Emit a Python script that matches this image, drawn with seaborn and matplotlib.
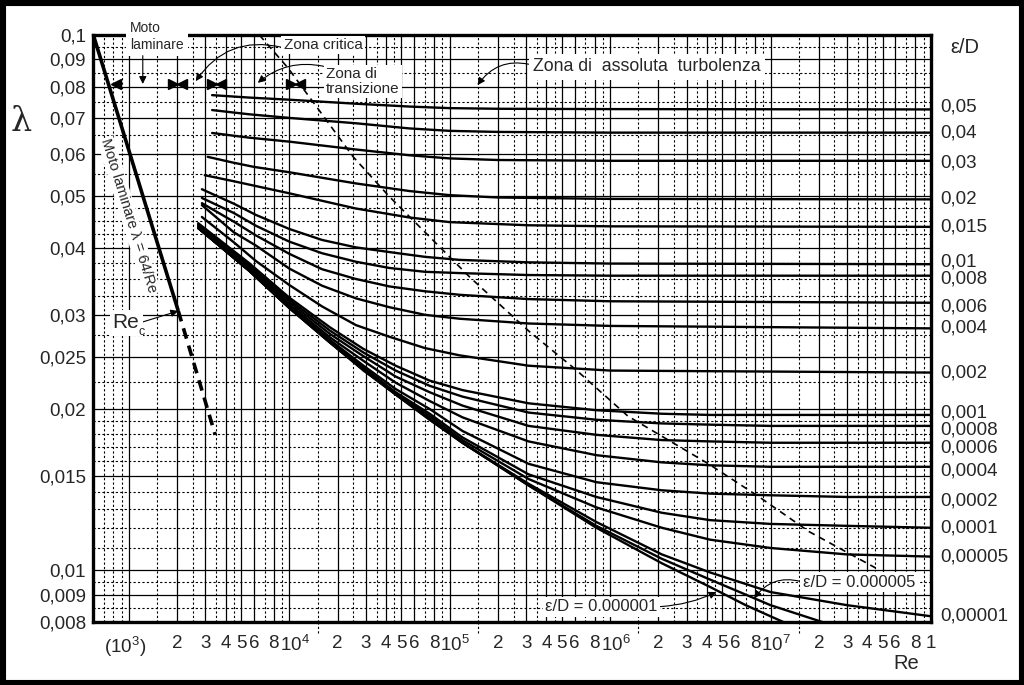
import numpy as np
import pandas as pd
import matplotlib
matplotlib.use("Agg")
import matplotlib.pyplot as plt
import matplotlib.transforms as mtransforms
from matplotlib.ticker import NullFormatter
from matplotlib.patches import Rectangle
import seaborn as sns

# --- data (Re, lambda) ---
# upper (very rough) curves
re_top = [3300, 5600, 1e4, 2.6e4, 5.6e4, 1e5, 2e5, 1e6, 1e8]
lam_005 = [0.0772, 0.0764, 0.0757, 0.0744, 0.0735, 0.0730, 0.0728, 0.0727, 0.0726]
lam_004 = [0.0724, 0.0711, 0.0700, 0.0684, 0.0669, 0.0662, 0.0659, 0.0657, 0.0657]
lam_003 = [0.0656, 0.0643, 0.0632, 0.0611, 0.0596, 0.0588, 0.0584, 0.0582, 0.0582]

re_002 = [3100, 4400, 6000, 1e4, 1.6e4, 2.6e4, 5.6e4, 1e5, 2e5, 1e6, 1e8]
lam_002 = [0.0592, 0.0578, 0.0567, 0.0554, 0.0541, 0.0528, 0.0511, 0.0502, 0.0497, 0.0494, 0.0493]

re_0015 = [2970, 4500, 6200, 1e4, 1.6e4, 2.6e4, 5.6e4, 1e5, 3.1e5, 1e6, 1e8]
lam_0015 = [0.0547, 0.0533, 0.0522, 0.0506, 0.0490, 0.0474, 0.0456, 0.0447, 0.0441, 0.0439, 0.0438]

# middle curves
re_mid = [2850, 4500, 6200, 1e4, 1.6e4, 2.6e4, 4.2e4, 7e4, 1.15e5, 3.1e5, 1e6, 1e8]
lam_001 = [0.0515, 0.0484, 0.0461, 0.0434, 0.0414, 0.0401, 0.0393, 0.0385, 0.0380, 0.0376, 0.0374, 0.0373]
lam_0008 = [0.0496, 0.0465, 0.0440, 0.0411, 0.0391, 0.0377, 0.0367, 0.0361, 0.0359, 0.0356, 0.0355, 0.0355]
lam_0006 = [0.0485, 0.0448, 0.0422, 0.0390, 0.0365, 0.0350, 0.0339, 0.0332, 0.0327, 0.0321, 0.0318, 0.0316]
lam_0004 = [0.0481, 0.0428, 0.0404, 0.0366, 0.0340, 0.0322, 0.0310, 0.0300, 0.0295, 0.0289, 0.0286, 0.0283]
lam_0002 = [0.0457, 0.0410, 0.0378, 0.0341, 0.0311, 0.0287, 0.0273, 0.0260, 0.0252, 0.0241, 0.0236, 0.0234]

# lower (smooth-ish) curves
re_low = [2700, 5600, 1e4, 1.8e4, 2.9e4, 4.6e4, 7.5e4, 1.2e5, 3.1e5, 8.2e5, 2.1e6, 4.2e6, 1e7, 3e7, 1e8]
lam_0001 = [0.0445, 0.0375, 0.0323, 0.0284, 0.0259, 0.0241, 0.0226, 0.0217, 0.0205, 0.0199, 0.0196, 0.0195, 0.0195, 0.0195, 0.0195]
lam_00008 = [0.0442, 0.0372, 0.0320, 0.0280, 0.0255, 0.0236, 0.0221, 0.0211, 0.0197, 0.0191, 0.0188, 0.0187, 0.0186, 0.0186, 0.0186]
lam_00006 = [0.0440, 0.0369, 0.0317, 0.0276, 0.0251, 0.0230, 0.0215, 0.0203, 0.0186, 0.0179, 0.0175, 0.0174, 0.0173, 0.0173, 0.0173]
lam_00004 = [0.0437, 0.0367, 0.0314, 0.0272, 0.0246, 0.0224, 0.0207, 0.0193, 0.0174, 0.0164, 0.0159, 0.0157, 0.0156, 0.0156, 0.0156]
lam_00002 = [0.0436, 0.0365, 0.0311, 0.0269, 0.0241, 0.0218, 0.0200, 0.0182, 0.0158, 0.0146, 0.0141, 0.0139, 0.0138, 0.0137, 0.0137]
lam_00001 = [0.0436, 0.0364, 0.0310, 0.0268, 0.0239, 0.0215, 0.0196, 0.0177, 0.0151, 0.0137, 0.0128, 0.0124, 0.0122, 0.0121, 0.0120]
lam_000005 = [0.0436, 0.0363, 0.0309, 0.0267, 0.0238, 0.0214, 0.0194, 0.0175, 0.0148, 0.0131, 0.0120, 0.0114, 0.0110, 0.0107, 0.0106]
lam_000001 = [0.0436, 0.0363, 0.0309, 0.0266, 0.0237, 0.0213, 0.0192, 0.0173, 0.0145, 0.0123, 0.0107, 0.0099, 0.0091, 0.0086, 0.0082]

re_5e6 = [2700, 5600, 1e4, 1.8e4, 2.9e4, 4.6e4, 7.5e4, 1.2e5, 3.1e5, 8.2e5, 2.1e6, 4.2e6, 7e6, 1e7, 2.1e7]
lam_5e6 = [0.0436, 0.0363, 0.0309, 0.0266, 0.0237, 0.0213, 0.0191, 0.0173, 0.0144, 0.0121, 0.0105, 0.0096, 0.0090, 0.0086, 0.0080]
re_1e6 = [2700, 5600, 1e4, 1.8e4, 2.9e4, 4.6e4, 7.5e4, 1.2e5, 3.1e5, 8.2e5, 2.1e6, 4.2e6, 7e6, 1.2e7]
lam_1e6 = [0.0436, 0.0363, 0.0309, 0.0266, 0.0236, 0.0213, 0.0191, 0.0173, 0.0144, 0.0120, 0.0103, 0.0093, 0.0086, 0.0080]

# laminar line and critical-zone continuation
re_lam = [600, 2030]
lam_lam = [0.1, 0.0305]
re_lam_dash = [2030, 3450]
lam_lam_dash = [0.0305, 0.0179]

# boundary of the fully rough zone (dashed)
re_rough = [6500, 9800, 14800, 25000, 42000, 68000, 1.33e5, 3.14e5, 6.1e5, 1.29e6, 4.1e6, 8.5e6, 1.74e7, 4.5e7]
lam_rough = [0.1, 0.0868, 0.0734, 0.0592, 0.0499, 0.0432, 0.0353, 0.0279, 0.0237, 0.0194, 0.0158, 0.0137, 0.0118, 0.0101]

curves = [
    ("0,05", re_top, lam_005), ("0,04", re_top, lam_004), ("0,03", re_top, lam_003),
    ("0,02", re_002, lam_002), ("0,015", re_0015, lam_0015),
    ("0,01", re_mid, lam_001), ("0,008", re_mid, lam_0008), ("0,006", re_mid, lam_0006),
    ("0,004", re_mid, lam_0004), ("0,002", re_mid, lam_0002),
    ("0,001", re_low, lam_0001), ("0,0008", re_low, lam_00008), ("0,0006", re_low, lam_00006),
    ("0,0004", re_low, lam_00004), ("0,0002", re_low, lam_00002), ("0,0001", re_low, lam_00001),
    ("0,00005", re_low, lam_000005), ("0,00001", re_low, lam_000001),
    ("5e-6", re_5e6, lam_5e6), ("1e-6", re_1e6, lam_1e6),
]
no_label = ["5e-6", "1e-6"]
# small vertical nudges (px, down positive) of right labels
label_nudge = {"0,05": -2, "0,03": 2, "0,01": -2, "0,008": 3, "0,006": 4,
               "0,001": -2, "0,0008": 4, "0,0006": 5, "0,0004": 4, "0,0002": 4}

rows = []
for name, rr, ll in curves:
    for r, l in zip(rr, ll):
        rows.append((name, r, l))
df = pd.DataFrame(rows, columns=["curve", "Re", "lam"])

# axis ticks
y_major = [0.1, 0.09, 0.08, 0.07, 0.06, 0.05, 0.04, 0.03, 0.025, 0.02, 0.015, 0.01, 0.009, 0.008]
y_labels = ["0,1", "0,09", "0,08", "0,07", "0,06", "0,05", "0,04", "0,03", "0,025", "0,02",
            "0,015", "0,01", "0,009", "0,008"]
y_minor = [0.095, 0.085, 0.075, 0.065, 0.055, 0.0475, 0.045, 0.0425, 0.0375, 0.035, 0.0325,
           0.0275, 0.0225, 0.019, 0.018, 0.017, 0.016, 0.014, 0.013, 0.012, 0.011, 0.0095, 0.0085]

x_major, x_labels = [], []
for d in range(3, 8):
    for m in [1, 2, 3, 4, 5, 6, 8]:
        x_major.append(m * 10.0 ** d)
        if m == 1:
            x_labels.append(r"$\mathregular{(10^3)}$" if d == 3 else r"$\mathregular{10^%d}$" % d)
        else:
            x_labels.append(str(m))
x_major.append(1e8)
x_labels.append("1")
x_minor = [7e2, 8e2, 9e2] + [m * 10.0 ** d for d in range(3, 8) for m in [1.5, 2.5, 3.5, 4.5, 7, 9]]
x_ext = [1.5e4, 1.5e5, 1.5e6, 1.5e7]

# --- drawing ---
sns.set_style("white")
plt.rcParams["font.family"] = ["Liberation Sans", "DejaVu Sans"]

fig = plt.figure(figsize=(10.24, 6.85), dpi=100)
ax = fig.add_axes([93 / 1024, 1 - 622 / 685, 838 / 1024, 587 / 685])
ax.set_xscale("log")
ax.set_yscale("log")

sns.lineplot(data=df, x="Re", y="lam", hue="curve", palette=["black"] * len(curves),
             estimator=None, sort=False, legend=False, lw=1.7, ax=ax, zorder=3)

ax.plot(re_lam, lam_lam, color="black", lw=2.6, zorder=3, solid_capstyle="butt")
ax.plot(re_lam_dash, lam_lam_dash, color="black", lw=2.6, dashes=(3, 2), zorder=3)
ax.plot(re_rough, lam_rough, color="black", lw=1.2, dashes=(4, 3), zorder=3)

ax.set_xlim(597, 1e8)
ax.set_ylim(0.008, 0.1)
ax.set_xticks(x_major, labels=x_labels)
ax.set_xticks(x_minor, minor=True)
ax.set_yticks(y_major, labels=y_labels)
ax.set_yticks(y_minor, minor=True)
ax.xaxis.set_minor_formatter(NullFormatter())
ax.yaxis.set_minor_formatter(NullFormatter())
ax.tick_params(which="both", length=0)
ax.tick_params(axis="x", pad=9, labelsize=13.5)
ax.tick_params(axis="y", pad=5, labelsize=13.5)
# powers of ten: keep the "10" over the grid line, exponent to the right
shift = mtransforms.ScaledTranslation(4 / 72, 0, fig.dpi_scale_trans)
back = mtransforms.ScaledTranslation(-3 / 72, 0, fig.dpi_scale_trans)
for lab in ax.get_xticklabels():
    txt = lab.get_text()
    if "(" in txt:
        lab.set_transform(lab.get_transform() + back)
    elif "10" in txt:
        lab.set_transform(lab.get_transform() + shift)
ax.grid(which="major", color="black", lw=0.9, ls="-", zorder=1)
ax.grid(which="minor", color="black", lw=0.8, ls=(0, (2, 2)), zorder=1)
ax.set_xlabel("")
ax.set_ylabel("")
for s in ax.spines.values():
    s.set_linewidth(2.4)
    s.set_color("black")

trans_x = mtransforms.blended_transform_factory(ax.transData, ax.transAxes)
ax.vlines(x_ext, -0.018, 0, transform=trans_x, color="black", lw=0.8,
          linestyles=(0, (2, 2)), clip_on=False)

# right-hand roughness labels
trans_y = mtransforms.blended_transform_factory(ax.transAxes, ax.transData)
for name, rr, ll in curves:
    if name in no_label:
        continue
    ax.annotate(name, xy=(1, ll[-1]), xycoords=trans_y,
                xytext=(6.5, -label_nudge.get(name, 0) * 0.72), textcoords="offset points",
                ha="left", va="center", fontsize=13.5, annotation_clip=False)

# zone markers row
lam_row = 0.081
tri = dict(color="black", ms=7, ls="none", zorder=5, clip_on=False)
ax.plot([830], [lam_row], marker="<", **tri)
for b in [2000, 3500, 11000]:
    left = mtransforms.offset_copy(ax.transData, fig=fig, x=-4.5, y=0, units="dots")
    right = mtransforms.offset_copy(ax.transData, fig=fig, x=4.5, y=0, units="dots")
    ax.plot([b], [lam_row], marker=">", transform=left, **tri)
    ax.plot([b], [lam_row], marker="<", transform=right, **tri)

arr = dict(arrowstyle="-|>", color="black", lw=0.8, mutation_scale=11, shrinkA=0, shrinkB=0)
box = dict(boxstyle="square,pad=0.15", fc="white", ec="none")

ax.text(0.044, 0.998, "Moto\nlaminare", transform=ax.transAxes, ha="left", va="center",
        fontsize=10, linespacing=1.25, bbox=dict(boxstyle="square,pad=0.3", fc="white", ec="none"),
        zorder=6, clip_on=False)
ax.annotate("", xy=(1220, lam_row), xytext=(1220, 0.0915), arrowprops=arr, zorder=6)

ax.annotate("Zona critica", xy=(2610, 0.082), xytext=(0.2745, 0.983), textcoords="axes fraction",
            ha="center", va="center", fontsize=11, bbox=box, zorder=6,
            arrowprops=dict(arr, connectionstyle="arc3,rad=0.35", relpos=(0, 0.3)))
ax.annotate("Zona di\ntransizione", xy=(6360, 0.0814), xytext=(0.278, 0.921),
            textcoords="axes fraction", ha="left", va="center", fontsize=11,
            linespacing=1.1, bbox=box, zorder=6,
            arrowprops=dict(arr, connectionstyle="arc3,rad=0.25", relpos=(0, 1)))
ax.annotate("Zona di  assoluta  turbolenza", xy=(1.49e5, 0.0806), xytext=(0.661, 0.9455),
            textcoords="axes fraction", ha="center", va="center", fontsize=12.8,
            bbox=dict(boxstyle="square,pad=0.25", fc="white", ec="none"), zorder=6,
            arrowprops=dict(arr, connectionstyle="arc3,rad=0.35", relpos=(0, 0.6)))

ax.annotate("ε/D = 0.000001", xy=(4.6e6, 0.0091), xytext=(0.607, 0.026),
            textcoords="axes fraction", ha="center", va="center", fontsize=12, bbox=box,
            zorder=6, arrowprops=dict(arr, connectionstyle="arc3,rad=0.1", relpos=(1, 0.5)))
ax.annotate("ε/D = 0.000005", xy=(7.9e6, 0.00886), xytext=(0.914, 0.068),
            textcoords="axes fraction", ha="center", va="center", fontsize=12, bbox=box,
            zorder=6, arrowprops=dict(arr, connectionstyle="arc3,rad=0.35", relpos=(0, 0.5)))

ax.annotate("Re", xy=(re_lam[1], lam_lam[1]), xytext=(0.0394, 0.5094),
            textcoords="axes fraction", ha="center", va="center", fontsize=15, bbox=box,
            zorder=6, arrowprops=dict(arr, relpos=(1, 0.5)))
ax.text(0.0575, 0.494, "c", transform=ax.transAxes, ha="center", va="center", fontsize=9,
        zorder=6)

ax.text(0.043, 0.6917, "Moto laminare λ = 64/Re", transform=ax.transAxes, ha="center",
        va="center", rotation=-72.8, rotation_mode="anchor", fontsize=10.5,
        bbox=dict(boxstyle="square,pad=0.1", fc="white", ec="none"), zorder=6)

# outer labels
fig.text(0.021, 0.822, "λ", fontsize=24, family=["DejaVu Serif"], ha="center", va="center")
fig.text(0.942, 0.930, "ε/D", fontsize=14.5, ha="center", va="center")
fig.text(0.885, 0.032, "Re", fontsize=14.5, ha="center", va="center")

fig.patches.append(Rectangle((0, 0), 1, 1, transform=fig.transFigure, fill=False,
                             lw=8, edgecolor="black"))

fig.savefig("out.png", dpi=100, facecolor="white")
